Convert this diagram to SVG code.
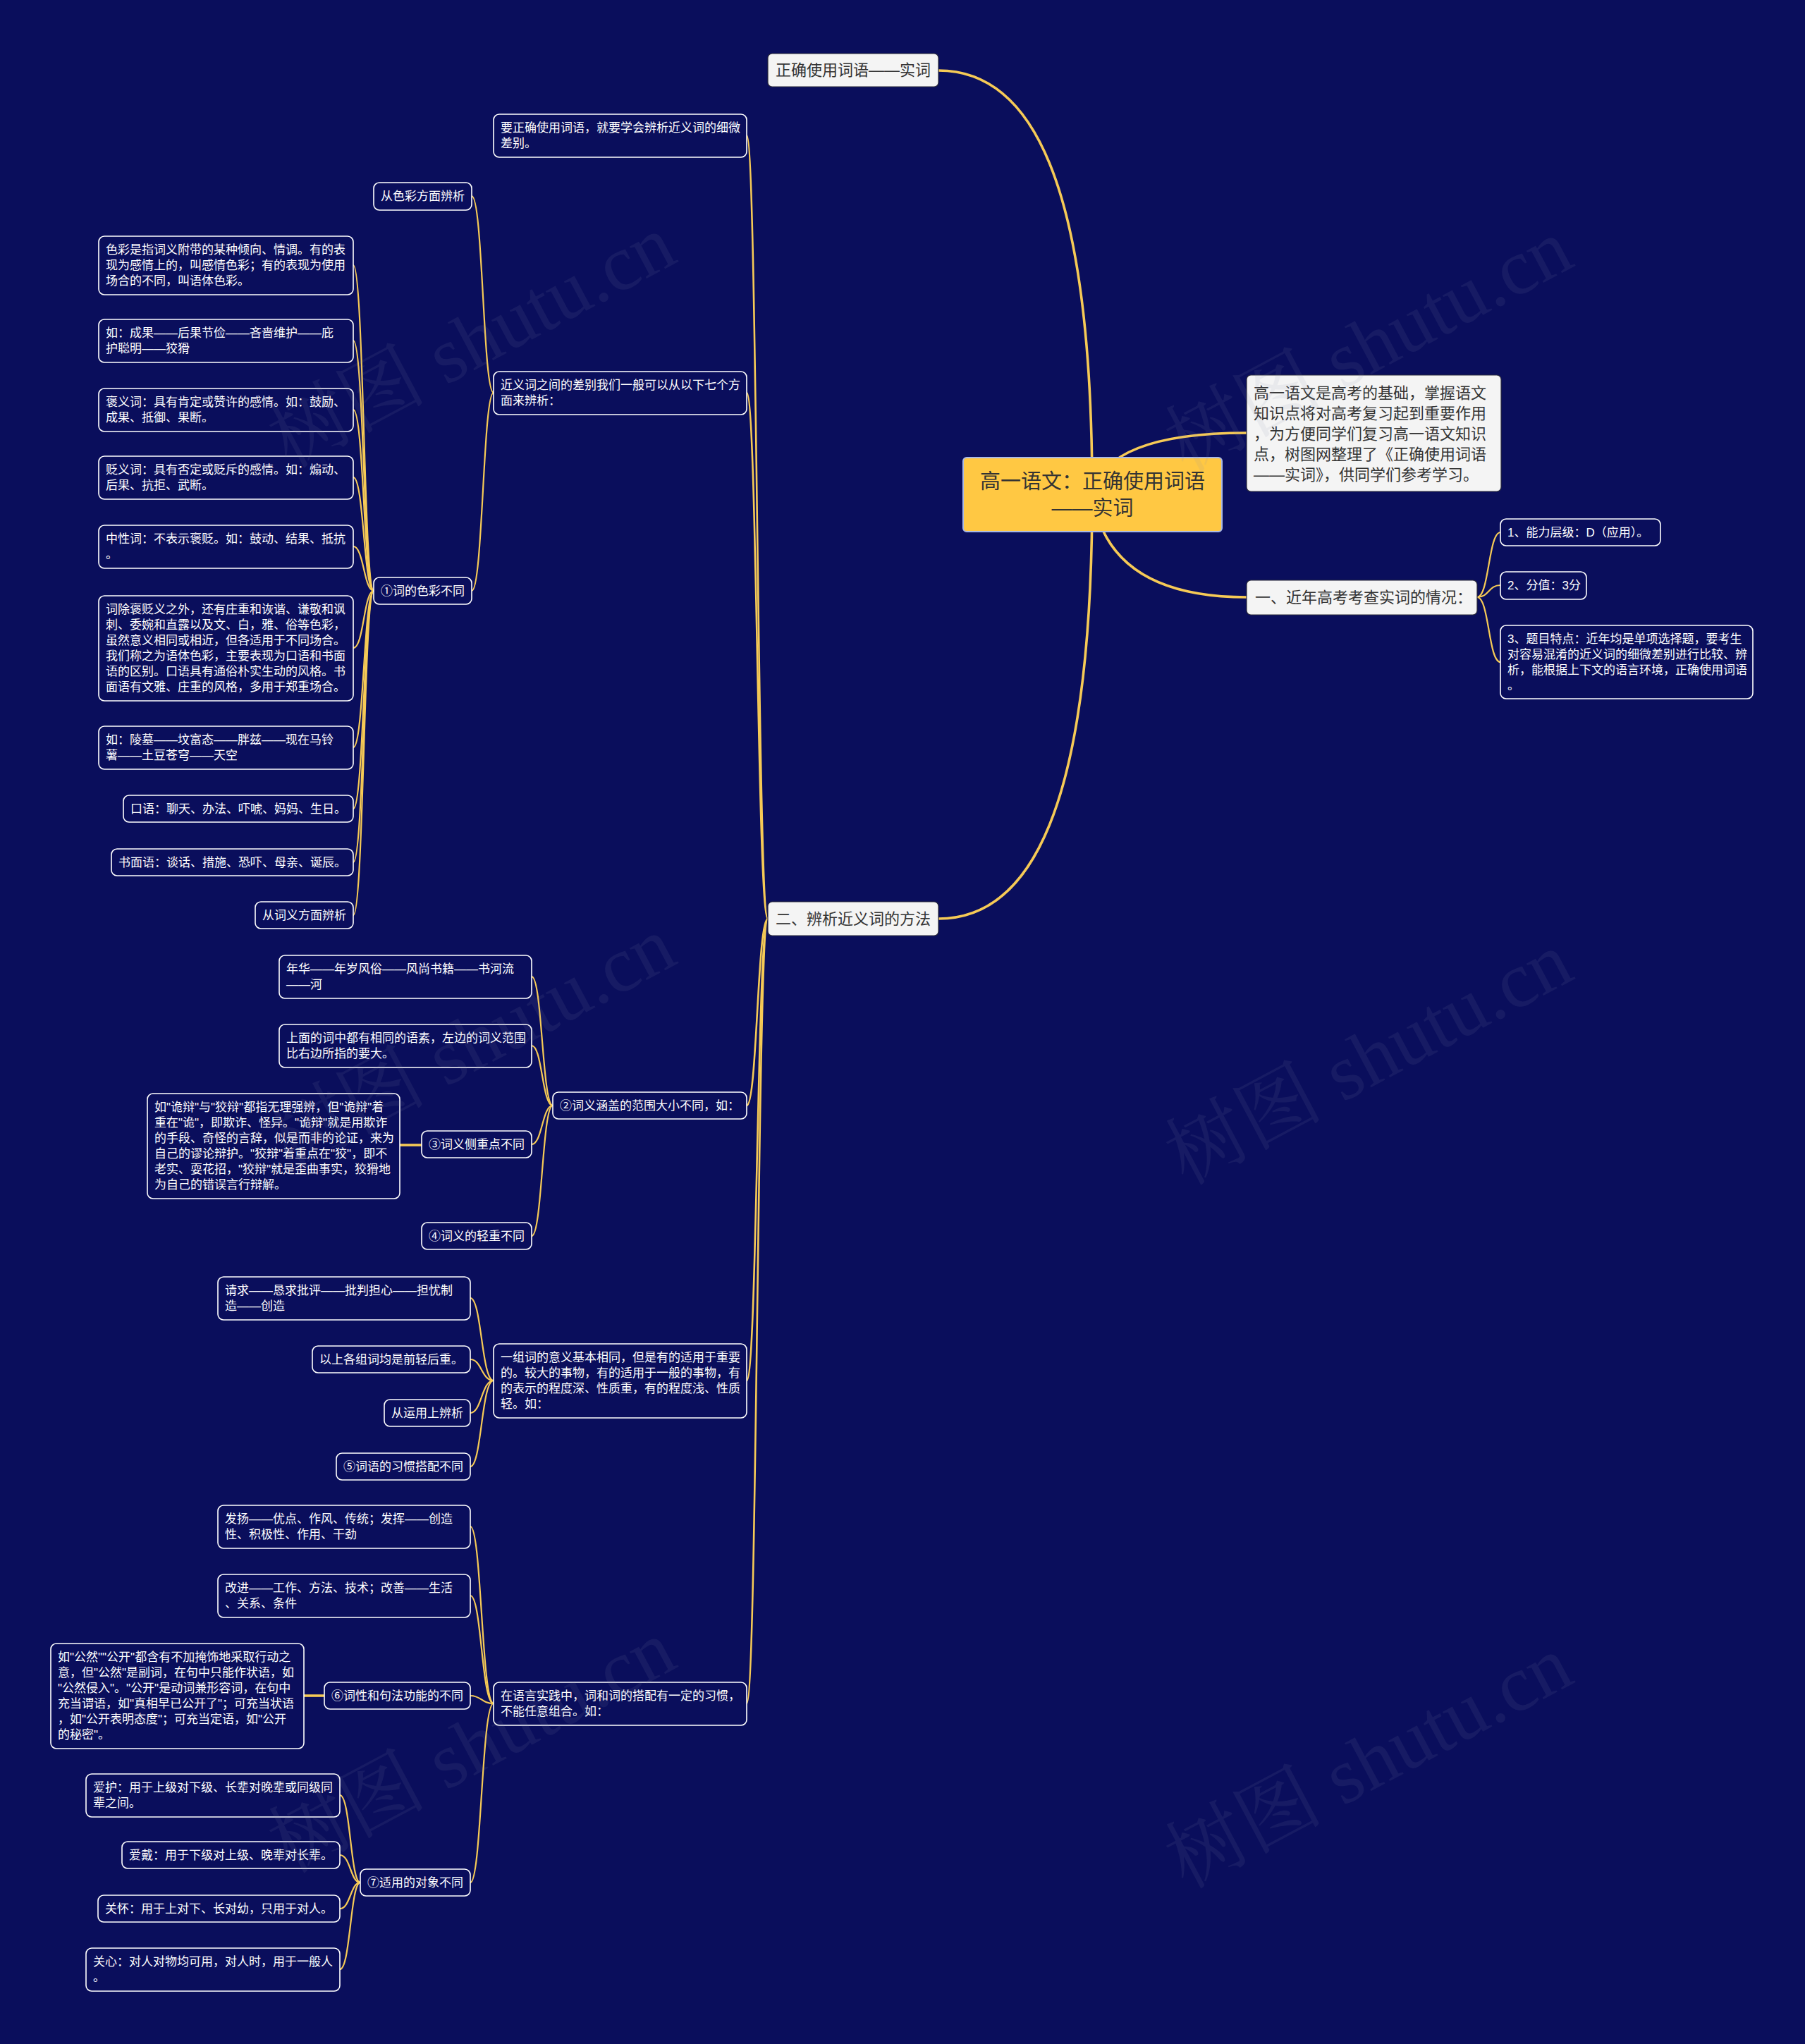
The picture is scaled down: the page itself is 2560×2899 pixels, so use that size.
<svg xmlns="http://www.w3.org/2000/svg" width="2560" height="2899" viewBox="0 0 2560 2899">
<style>
text{font-family:'Liberation Sans','Noto Sans CJK SC',sans-serif}
.l3{fill:#0A0E5C;stroke:#FFFFFF;stroke-width:1.6}
.l1{fill:#F4F4F4;stroke:#2A2A3A;stroke-width:1.2}
.root{fill:#FFC843;stroke:#A9B9E6;stroke-width:2}
.tw{fill:#FFFFFF;font-size:17px}
.td{fill:#333333;font-size:22px}
.c{fill:none;stroke:#F6CA56;stroke-width:2.2}
.c2{fill:none;stroke:#F6CA56;stroke-width:2.6}
.c1{fill:none;stroke:#F6CA56;stroke-width:3.6}
.wm{font-family:'Liberation Serif','Noto Serif CJK SC','Noto Sans CJK SC',serif;font-size:112px;fill:#8A8FB0;opacity:0.1}
</style>
<rect x="0" y="0" width="2560" height="2899" fill="#0A0E5C"/>

<g id="connectors">
<path class="c1" d="M1549,700 C1549,250 1460,100 1331,100"/>
<path class="c1" d="M1549,700 C1549,1150 1460,1303 1331,1303"/>
<path class="c1" d="M1549,700 Q1570,614 1768,614"/>
<path class="c1" d="M1549,700 Q1570,847 1768,847"/>
<path class="c" d="M2095,847 C2112,847 2111,755 2128,755"/>
<path class="c" d="M2095,847 C2112,847 2111,830 2128,830"/>
<path class="c" d="M2095,847 C2112,847 2111,939 2128,939"/>

<path class="c2" d="M1059,192 C1074,192 1074,1303 1089,1303"/>
<path class="c2" d="M1059,557 C1074,557 1074,1303 1089,1303"/>
<path class="c2" d="M1059,1568 C1074,1568 1074,1303 1089,1303"/>
<path class="c2" d="M1059,1958 C1074,1958 1074,1303 1089,1303"/>
<path class="c2" d="M1059,2416 C1074,2416 1074,1303 1089,1303"/>

<path class="c" d="M669,278 C685,278 685,557 700,557"/>
<path class="c" d="M669,838 C685,838 685,557 700,557"/>

<path class="c" d="M501,376 C516,376 516,838 530,838"/>
<path class="c" d="M501,483 C516,483 516,838 530,838"/>
<path class="c" d="M501,581 C516,581 516,838 530,838"/>
<path class="c" d="M501,677 C516,677 516,838 530,838"/>
<path class="c" d="M501,775 C516,775 516,838 530,838"/>
<path class="c" d="M501,919 C516,919 516,838 530,838"/>
<path class="c" d="M501,1060 C516,1060 516,838 530,838"/>
<path class="c" d="M501,1147 C516,1147 516,838 530,838"/>
<path class="c" d="M501,1223 C516,1223 516,838 530,838"/>
<path class="c" d="M501,1298 C516,1298 516,838 530,838"/>

<path class="c" d="M754,1385 C769,1385 769,1568 784,1568"/>
<path class="c" d="M754,1483 C769,1483 769,1568 784,1568"/>
<path class="c" d="M754,1623 C769,1623 769,1568 784,1568"/>
<path class="c" d="M754,1753 C769,1753 769,1568 784,1568"/>
<path class="c1" d="M567,1624 L598,1624"/>

<path class="c" d="M667,1841 C683,1841 683,1958 700,1958"/>
<path class="c" d="M667,1928 C683,1928 683,1958 700,1958"/>
<path class="c" d="M667,2004 C683,2004 683,1958 700,1958"/>
<path class="c" d="M667,2080 C683,2080 683,1958 700,1958"/>

<path class="c" d="M667,2165 C683,2165 683,2416 700,2416"/>
<path class="c" d="M667,2263 C683,2263 683,2416 700,2416"/>
<path class="c" d="M667,2405 C683,2405 683,2416 700,2416"/>
<path class="c" d="M667,2670 C683,2670 683,2416 700,2416"/>
<path class="c1" d="M431,2405 L460,2405"/>

<path class="c" d="M482,2546 C497,2546 497,2670 511,2670"/>
<path class="c" d="M482,2631 C497,2631 497,2670 511,2670"/>
<path class="c" d="M482,2707 C497,2707 497,2670 511,2670"/>
<path class="c" d="M482,2793 C497,2793 497,2670 511,2670"/>
</g>

<g id="root">
<rect class="root" x="1366" y="649" width="367" height="105" rx="5"/>
<text x="1549.5" y="693" text-anchor="middle" fill="#333333" font-size="29">高一语文：正确使用词语</text>
<text x="1549.5" y="731" text-anchor="middle" fill="#333333" font-size="29">——实词</text>
</g>

<g id="desc">
<rect class="l1" x="1768" y="532" width="361" height="165" rx="6"/>
<text class="td" x="1778" y="565">高一语文是高考的基础，掌握语文</text>
<text class="td" x="1778" y="594">知识点将对高考复习起到重要作用</text>
<text class="td" x="1778" y="623">，为方便同学们复习高一语文知识</text>
<text class="td" x="1778" y="652">点，树图网整理了《正确使用词语</text>
<text class="td" x="1778" y="681">——实词》，供同学们参考学习。</text>
</g>

<g id="n-recent">
<rect class="l1" x="1768" y="823" width="327" height="49" rx="6"/>
<text class="td" x="1780" y="855">一、近年高考考查实词的情况：</text>
</g>
<g id="r1">
<rect class="l3" x="2128" y="736" width="227" height="38" rx="8"/>
<text class="tw" x="2138" y="761">1、能力层级：D（应用）。</text>
</g>
<g id="r2">
<rect class="l3" x="2128" y="811" width="122" height="39" rx="8"/>
<text class="tw" x="2138" y="836">2、分值：3分</text>
</g>
<g id="r3">
<rect class="l3" x="2128" y="887" width="358" height="104" rx="8"/>
<text class="tw" x="2138" y="912">3、题目特点：近年均是单项选择题，要考生</text>
<text class="tw" x="2138" y="934">对容易混淆的近义词的细微差别进行比较、辨</text>
<text class="tw" x="2138" y="956">析，能根据上下文的语言环境，正确使用词语</text>
<text class="tw" x="2138" y="978">。</text>
</g>

<g id="n-top">
<rect class="l1" x="1089" y="76" width="242" height="47" rx="6"/>
<text class="td" x="1100" y="107">正确使用词语——实词</text>
</g>
<g id="n-method">
<rect class="l1" x="1089" y="1279" width="242" height="48" rx="6"/>
<text class="td" x="1100" y="1311">二、辨析近义词的方法</text>
</g>

<g id="a1">
<rect class="l3" x="700" y="162" width="359" height="61" rx="8"/>
<text class="tw" x="710" y="187">要正确使用词语，就要学会辨析近义词的细微</text>
<text class="tw" x="710" y="209">差别。</text>
</g>
<g id="a2">
<rect class="l3" x="700" y="527" width="359" height="61" rx="8"/>
<text class="tw" x="710" y="552">近义词之间的差别我们一般可以从以下七个方</text>
<text class="tw" x="710" y="574">面来辨析：</text>
</g>
<g id="b1">
<rect class="l3" x="530" y="259" width="139" height="39" rx="8"/>
<text class="tw" x="540" y="284">从色彩方面辨析</text>
</g>
<g id="b2">
<rect class="l3" x="530" y="819" width="139" height="38" rx="8"/>
<text class="tw" x="540" y="844">①词的色彩不同</text>
</g>

<g id="c1">
<rect class="l3" x="140" y="335" width="361" height="83" rx="8"/>
<text class="tw" x="150" y="360">色彩是指词义附带的某种倾向、情调。有的表</text>
<text class="tw" x="150" y="382">现为感情上的，叫感情色彩；有的表现为使用</text>
<text class="tw" x="150" y="404">场合的不同，叫语体色彩。</text>
</g>
<g id="c2">
<rect class="l3" x="140" y="453" width="361" height="61" rx="8"/>
<text class="tw" x="150" y="478">如：成果——后果节俭——吝啬维护——庇</text>
<text class="tw" x="150" y="500">护聪明——狡猾</text>
</g>
<g id="c3">
<rect class="l3" x="140" y="551" width="361" height="61" rx="8"/>
<text class="tw" x="150" y="576">褒义词：具有肯定或赞许的感情。如：鼓励、</text>
<text class="tw" x="150" y="598">成果、抵御、果断。</text>
</g>
<g id="c4">
<rect class="l3" x="140" y="647" width="361" height="61" rx="8"/>
<text class="tw" x="150" y="672">贬义词：具有否定或贬斥的感情。如：煽动、</text>
<text class="tw" x="150" y="694">后果、抗拒、武断。</text>
</g>
<g id="c5">
<rect class="l3" x="140" y="745" width="361" height="61" rx="8"/>
<text class="tw" x="150" y="770">中性词：不表示褒贬。如：鼓动、结果、抵抗</text>
<text class="tw" x="150" y="792">。</text>
</g>
<g id="c6">
<rect class="l3" x="140" y="845" width="361" height="149" rx="8"/>
<text class="tw" x="150" y="870">词除褒贬义之外，还有庄重和诙谐、谦敬和讽</text>
<text class="tw" x="150" y="892">刺、委婉和直露以及文、白，雅、俗等色彩，</text>
<text class="tw" x="150" y="914">虽然意义相同或相近，但各适用于不同场合。</text>
<text class="tw" x="150" y="936">我们称之为语体色彩，主要表现为口语和书面</text>
<text class="tw" x="150" y="958">语的区别。口语具有通俗朴实生动的风格。书</text>
<text class="tw" x="150" y="980">面语有文雅、庄重的风格，多用于郑重场合。</text>
</g>
<g id="c7">
<rect class="l3" x="140" y="1030" width="361" height="61" rx="8"/>
<text class="tw" x="150" y="1055">如：陵墓——坟富态——胖兹——现在马铃</text>
<text class="tw" x="150" y="1077">薯——土豆苍穹——天空</text>
</g>
<g id="c8">
<rect class="l3" x="175" y="1128" width="326" height="38" rx="8"/>
<text class="tw" x="185" y="1153">口语：聊天、办法、吓唬、妈妈、生日。</text>
</g>
<g id="c9">
<rect class="l3" x="158" y="1204" width="343" height="38" rx="8"/>
<text class="tw" x="168" y="1229">书面语：谈话、措施、恐吓、母亲、诞辰。</text>
</g>
<g id="c10">
<rect class="l3" x="362" y="1279" width="139" height="38" rx="8"/>
<text class="tw" x="372" y="1304">从词义方面辨析</text>
</g>

<g id="a3">
<rect class="l3" x="784" y="1549" width="275" height="38" rx="8"/>
<text class="tw" x="794" y="1574">②词义涵盖的范围大小不同，如：</text>
</g>
<g id="d1">
<rect class="l3" x="396" y="1355" width="358" height="61" rx="8"/>
<text class="tw" x="406" y="1380">年华——年岁风俗——风尚书籍——书河流</text>
<text class="tw" x="406" y="1402">——河</text>
</g>
<g id="d2">
<rect class="l3" x="396" y="1453" width="358" height="61" rx="8"/>
<text class="tw" x="406" y="1478">上面的词中都有相同的语素，左边的词义范围</text>
<text class="tw" x="406" y="1500">比右边所指的要大。</text>
</g>
<g id="d3">
<rect class="l3" x="598" y="1604" width="156" height="38" rx="8"/>
<text class="tw" x="608" y="1629">③词义侧重点不同</text>
</g>
<g id="d3c">
<rect class="l3" x="209" y="1551" width="358" height="149" rx="8"/>
<text class="tw" x="219" y="1576">如"诡辩"与"狡辩"都指无理强辨，但"诡辩"着</text>
<text class="tw" x="219" y="1598">重在"诡"，即欺诈、怪异。"诡辩"就是用欺诈</text>
<text class="tw" x="219" y="1620">的手段、奇怪的言辞，似是而非的论证，来为</text>
<text class="tw" x="219" y="1642">自己的谬论辩护。"狡辩"着重点在"狡"，即不</text>
<text class="tw" x="219" y="1664">老实、耍花招，"狡辩"就是歪曲事实，狡猾地</text>
<text class="tw" x="219" y="1686">为自己的错误言行辩解。</text>
</g>
<g id="d4">
<rect class="l3" x="598" y="1734" width="156" height="38" rx="8"/>
<text class="tw" x="608" y="1759">④词义的轻重不同</text>
</g>

<g id="a4">
<rect class="l3" x="700" y="1906" width="359" height="105" rx="8"/>
<text class="tw" x="710" y="1931">一组词的意义基本相同，但是有的适用于重要</text>
<text class="tw" x="710" y="1953">的。较大的事物，有的适用于一般的事物，有</text>
<text class="tw" x="710" y="1975">的表示的程度深、性质重，有的程度浅、性质</text>
<text class="tw" x="710" y="1997">轻。如：</text>
</g>
<g id="e1">
<rect class="l3" x="309" y="1811" width="358" height="61" rx="8"/>
<text class="tw" x="319" y="1836">请求——恳求批评——批判担心——担忧制</text>
<text class="tw" x="319" y="1858">造——创造</text>
</g>
<g id="e2">
<rect class="l3" x="443" y="1909" width="224" height="38" rx="8"/>
<text class="tw" x="453" y="1934">以上各组词均是前轻后重。</text>
</g>
<g id="e3">
<rect class="l3" x="545" y="1985" width="122" height="38" rx="8"/>
<text class="tw" x="555" y="2010">从运用上辨析</text>
</g>
<g id="e4">
<rect class="l3" x="477" y="2061" width="190" height="38" rx="8"/>
<text class="tw" x="487" y="2086">⑤词语的习惯搭配不同</text>
</g>

<g id="a5">
<rect class="l3" x="700" y="2386" width="359" height="61" rx="8"/>
<text class="tw" x="710" y="2411">在语言实践中，词和词的搭配有一定的习惯，</text>
<text class="tw" x="710" y="2433">不能任意组合。如：</text>
</g>
<g id="f1">
<rect class="l3" x="309" y="2135" width="358" height="61" rx="8"/>
<text class="tw" x="319" y="2160">发扬——优点、作风、传统；发挥——创造</text>
<text class="tw" x="319" y="2182">性、积极性、作用、干劲</text>
</g>
<g id="f2">
<rect class="l3" x="309" y="2233" width="358" height="61" rx="8"/>
<text class="tw" x="319" y="2258">改进——工作、方法、技术；改善——生活</text>
<text class="tw" x="319" y="2280">、关系、条件</text>
</g>
<g id="f3">
<rect class="l3" x="460" y="2386" width="207" height="38" rx="8"/>
<text class="tw" x="470" y="2411">⑥词性和句法功能的不同</text>
</g>
<g id="f3c">
<rect class="l3" x="72" y="2331" width="359" height="149" rx="8"/>
<text class="tw" x="82" y="2356">如"公然""公开"都含有不加掩饰地采取行动之</text>
<text class="tw" x="82" y="2378">意，但"公然"是副词，在句中只能作状语，如</text>
<text class="tw" x="82" y="2400">"公然侵入"。"公开"是动词兼形容词，在句中</text>
<text class="tw" x="82" y="2422">充当谓语，如"真相早已公开了"；可充当状语</text>
<text class="tw" x="82" y="2444">，如"公开表明态度"；可充当定语，如"公开</text>
<text class="tw" x="82" y="2466">的秘密"。</text>
</g>
<g id="f4">
<rect class="l3" x="511" y="2651" width="156" height="38" rx="8"/>
<text class="tw" x="521" y="2676">⑦适用的对象不同</text>
</g>
<g id="g1">
<rect class="l3" x="122" y="2516" width="360" height="61" rx="8"/>
<text class="tw" x="132" y="2541">爱护：用于上级对下级、长辈对晚辈或同级同</text>
<text class="tw" x="132" y="2563">辈之间。</text>
</g>
<g id="g2">
<rect class="l3" x="173" y="2612" width="309" height="38" rx="8"/>
<text class="tw" x="183" y="2637">爱戴：用于下级对上级、晚辈对长辈。</text>
</g>
<g id="g3">
<rect class="l3" x="139" y="2688" width="343" height="38" rx="8"/>
<text class="tw" x="149" y="2713">关怀：用于上对下、长对幼，只用于对人。</text>
</g>
<g id="g4">
<rect class="l3" x="122" y="2763" width="360" height="61" rx="8"/>
<text class="tw" x="132" y="2788">关心：对人对物均可用，对人时，用于一般人</text>
<text class="tw" x="132" y="2810">。</text>
</g>

<g id="watermarks">
<text class="wm" text-anchor="middle" dominant-baseline="central" transform="translate(669,484) rotate(-28)">树图 shutu.cn</text>
<text class="wm" text-anchor="middle" dominant-baseline="central" transform="translate(1941,490) rotate(-28)">树图 shutu.cn</text>
<text class="wm" text-anchor="middle" dominant-baseline="central" transform="translate(669,1479) rotate(-28)">树图 shutu.cn</text>
<text class="wm" text-anchor="middle" dominant-baseline="central" transform="translate(1941,1501) rotate(-28)">树图 shutu.cn</text>
<text class="wm" text-anchor="middle" dominant-baseline="central" transform="translate(669,2477) rotate(-28)">树图 shutu.cn</text>
<text class="wm" text-anchor="middle" dominant-baseline="central" transform="translate(1941,2499) rotate(-28)">树图 shutu.cn</text>
</g>
</svg>
